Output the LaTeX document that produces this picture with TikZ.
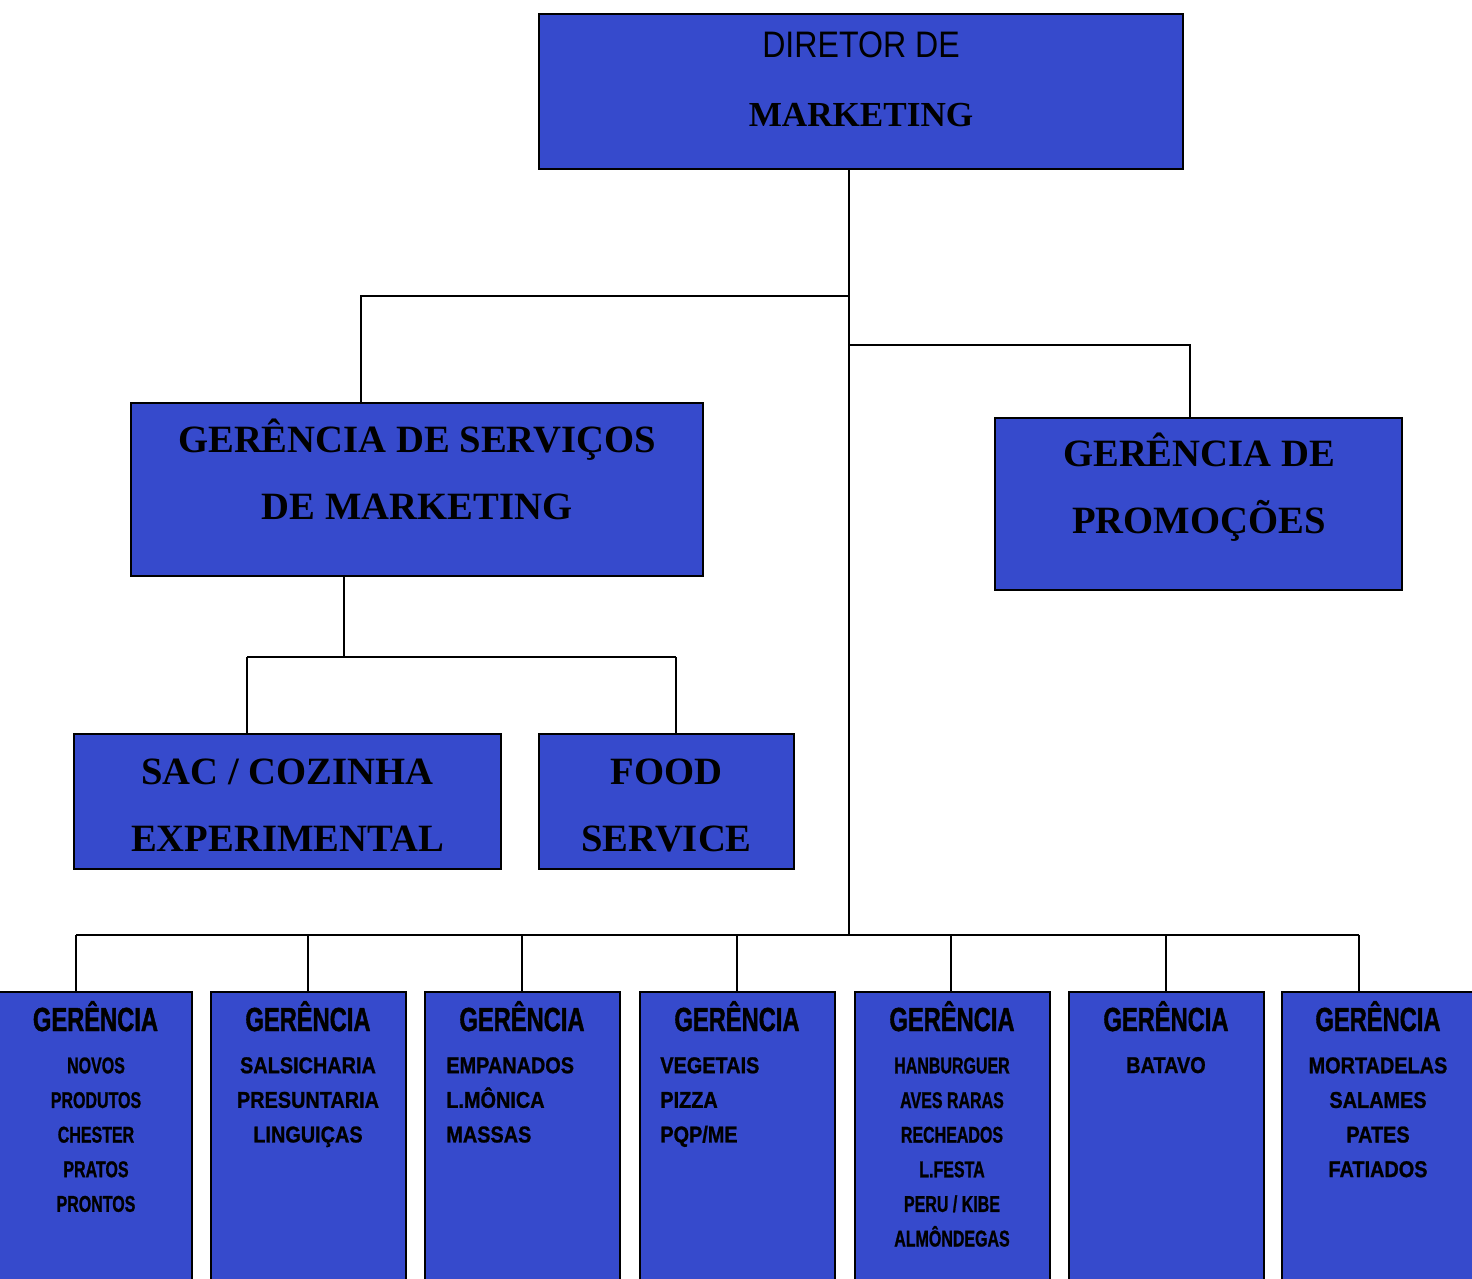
\documentclass[tikz,border=0pt]{standalone}
\usepackage{fontspec}
\setmainfont{Liberation Serif}
\newfontfamily\dirfont[FakeStretch=0.87]{Liberation Sans}
\newfontfamily\gerfont[FakeStretch=0.71,FakeBold=1.2]{Liberation Sans}
\newfontfamily\itemfont[FakeStretch=0.87,FakeBold=1]{Liberation Sans}
\newfontfamily\itemnarrow[FakeStretch=0.7,FakeBold=1]{Liberation Sans}
\usetikzlibrary{shapes,arrows}
\definecolor{boxblue}{RGB}{54,74,204}
\tikzstyle{block} = [rectangle, draw=black, line width=1.2pt, fill=boxblue]
\tikzstyle{low} = [block, minimum width=3.9cm, minimum height=6.2cm]
\tikzstyle{line} = [draw, line width=1.1pt]
\tikzstyle{head} = [inner sep=0pt, anchor=base, align=center,
    font=\bfseries\fontsize{22}{38}\selectfont]
\tikzstyle{ger} = [inner sep=0pt, anchor=base,
    font=\gerfont\bfseries\fontsize{19}{19}\selectfont]
\tikzstyle{items} = [inner sep=0pt, anchor=base, align=center,
    font=\itemfont\bfseries\fontsize{13}{19.7}\selectfont]

\begin{document}
\begin{tikzpicture}[x=0.02cm, y=-0.02cm]
    \useasboundingbox[fill=white] (0,0) rectangle (1472,1279);
    % Place boxes
    \node [block, minimum width=12.88cm, minimum height=3.1cm] (director) at (861,91.5) {};
    \node [block, minimum width=11.44cm, minimum height=3.46cm] (servicos) at (417,489.5) {};
    \node [block, minimum width=8.14cm, minimum height=3.44cm] (promocoes) at (1198.5,504) {};
    \node [block, minimum width=8.54cm, minimum height=2.7cm] (sac) at (287.5,801.5) {};
    \node [block, minimum width=5.1cm, minimum height=2.7cm] (food) at (666.5,801.5) {};
    \node [low] (novos) at (94.5,1147) {};
    \node [low] (salsicharia) at (308.5,1147) {};
    \node [low] (empanados) at (522.5,1147) {};
    \node [low] (vegetais) at (737.5,1147) {};
    \node [low] (hanburguer) at (952.5,1147) {};
    \node [low] (batavo) at (1166.5,1147) {};
    \node [low] (mortadelas) at (1379.5,1147) {};
    % Place texts (base = last line)
    \node [inner sep=0pt, anchor=base, font=\dirfont\fontsize{21}{21}\selectfont] at (861,57) {DIRETOR DE};
    \node [head, font=\bfseries\fontsize{20}{20}\selectfont] at (861,126) {MARKETING};
    \node [head] at (417,519) {GERÊNCIA DE SERVIÇOS\\DE MARKETING};
    \node [head] at (1199,533) {GERÊNCIA DE\\PROMOÇÕES};
    \node [head] at (287.5,851) {SAC / COZINHA\\EXPERIMENTAL};
    \node [head] at (666.5,851) {FOOD\\SERVICE};
    \foreach \x in {95.5,308,522,737,952,1166,1378}
        \node [ger] at (\x,1031) {GERÊNCIA};
    \node [items, font=\itemnarrow\bfseries\fontsize{13}{19.7}\selectfont] at (96,1211.8)
        {NOVOS\\PRODUTOS\\CHESTER\\PRATOS\\PRONTOS};
    \node [items] at (308,1142.4) {SALSICHARIA\\PRESUNTARIA\\LINGUIÇAS};
    \node [items, align=left, anchor=base west] at (446,1142.4) {EMPANADOS\\L.MÔNICA\\MASSAS};
    \node [items, align=left, anchor=base west] at (660,1142.4) {VEGETAIS\\PIZZA\\PQP/ME};
    \node [items, font=\itemnarrow\bfseries\fontsize{13}{19.7}\selectfont] at (952,1246.5)
        {HANBURGUER\\AVES RARAS\\RECHEADOS\\L.FESTA\\PERU / KIBE\\ALMÔNDEGAS};
    \node [items] at (1166,1073) {BATAVO};
    \node [items] at (1378,1177.1) {MORTADELAS\\SALAMES\\PATES\\FATIADOS};
    % Draw edges
    \coordinate (bus) at (849,935);
    \coordinate (j1) at (849,296);
    \coordinate (j2) at (849,345);
    \coordinate (sv) at (361,296);
    \coordinate (pr) at (1190,345);
    \coordinate (s0) at (344,657);
    \coordinate (sL) at (247,657);
    \coordinate (sR) at (676,657);
    \path [line] (director.south -| bus) -- (bus);
    \path [line] (j1) -- (sv) -- (sv |- servicos.north);
    \path [line] (j2) -- (pr) -- (pr |- promocoes.north);
    \path [line] (servicos.south -| s0) -- (s0);
    \path [line] (sL) -- (sR);
    \path [line] (sL) -- (sL |- sac.north);
    \path [line] (sR) -- (sR |- food.north);
    \path [line] (76,935) -- (1359,935);
    \foreach \x/\n in {76/novos,308/salsicharia,522/empanados,737/vegetais,951/hanburguer,1166/batavo,1359/mortadelas}
        \path [line] (\x,935) -- (\x,935 |- \n.north);
\end{tikzpicture}
\end{document}
